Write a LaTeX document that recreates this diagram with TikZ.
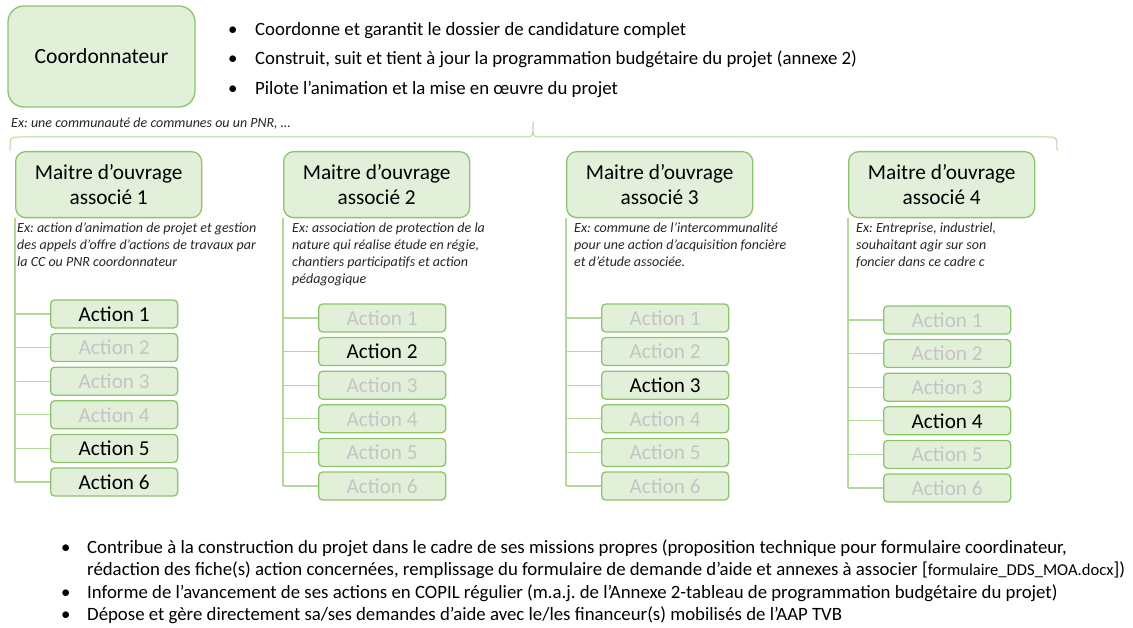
\documentclass[tikz,border=0pt]{standalone}
\usepackage{fontspec}
\setmainfont{Carlito}
\frenchspacing
\definecolor{boxgreen}{HTML}{8CC46B}
\definecolor{boxfill}{HTML}{E2F0D9}
\definecolor{linegreen}{HTML}{B4D89C}
\definecolor{greytext}{HTML}{C4C4C4}
\definecolor{extext}{HTML}{262626}
\tikzset{
  rolebox/.style={draw=boxgreen,fill=boxfill,line width=1.3pt,
    rounded corners=10pt,align=center,inner sep=0pt},
  actbox/.style={draw=boxgreen,fill=boxfill,line width=1.3pt,
    rounded corners=4pt,minimum width=127pt,minimum height=28pt,
    inner sep=0pt,font=\fontsize{21.2}{22}\selectfont},
  exnote/.style={anchor=north west,align=left,inner sep=0pt,text=extext,
    font=\fontsize{14}{17}\selectfont\itshape},
  puce/.style={anchor=base west,inner sep=0pt},
  tree/.style={draw=linegreen,line width=1.2pt}
}
\begin{document}
\begin{tikzpicture}[x=1pt,y=-1pt]
  \useasboundingbox (0,0) rectangle (1133,628);
  % coordonnateur
  \node[rolebox,minimum width=187pt,minimum height=101pt,rounded corners=16pt,
    font=\fontsize{21.6}{24}\selectfont] (coord) at (101.5,56.5) {Coordonnateur};
  \foreach \yy/\txt [count=\i] in {36/{Coordonne et garantit le dossier de candidature complet},
      65/{Construit, suit et tient à jour la programmation budgétaire du projet (annexe 2)},
      95/{Pilote l’animation et la mise en œuvre du projet}} {
    \node[puce,font=\fontsize{18.8}{22}\selectfont] (pc\i) at (228,\yy) {\textbullet};
    \node[puce,font=\fontsize{18.8}{22}\selectfont] (tc\i) at (255,\yy) {\txt};
  }
  \node[exnote,anchor=west] (excoord) at (11,124) {Ex: une communauté de communes ou un PNR, …};
  \draw[tree,line width=1pt] (10,151) .. controls (10,137) .. (20,137) -- (526,137)
    .. controls (533,137) .. (533,122) .. controls (533,137) .. (540,137) -- (1047,137)
    .. controls (1057,137) .. (1057,151);
  % maitres d'ouvrage associes
  \foreach \n/\x/\y in {1/15/314,2/283/318,3/566/318,4/848/320} {
    \node[rolebox,minimum width=186pt,minimum height=66pt,anchor=north west,
      font=\fontsize{21.3}{25}\selectfont] (moa\n) at (\x,151) {Maitre d’ouvrage\\associé \n};
    \foreach \k in {1,...,6} {
      \pgfmathtruncatemacro\isact{(\k==\n)||((\n==1)&&(\k>4))}
      \ifnum\isact=1 \def\actcol{black}\else\def\actcol{greytext}\fi
      \node[actbox,text=\actcol,anchor=west] (a\n\k) at (\x+35,\y+33.6*\k-33.6) {Action \k};
      \draw[tree] (moa\n.south west |- a\n\k.west) -- (a\n\k.west);
    }
    \draw[tree] (moa\n.south west) -- (moa\n.south west |- a\n6.west);
  }
  \node[exnote] (ex1) at ([shift={(2,4)}]moa1.south west)
    {Ex: action d’animation de projet et gestion\\des appels d’offre d’actions de travaux par\\la CC ou PNR coordonnateur};
  \node[exnote] (ex2) at ([shift={(9,4)}]moa2.south west)
    {Ex: association de protection de la\\nature qui réalise étude en régie,\\chantiers participatifs et action\\pédagogique};
  \node[exnote] (ex3) at ([shift={(8,4)}]moa3.south west)
    {Ex: commune de l’intercommunalité\\pour une action d’acquisition foncière\\et d’étude associée.};
  \node[exnote] (ex4) at ([shift={(8,4)}]moa4.south west)
    {Ex: Entreprise, industriel,\\souhaitant agir sur son\\foncier dans ce cadre c};
  % missions des maitres d'ouvrage
  \begin{scope}[font=\fontsize{18.8}{22}\selectfont]
    \node[puce] (pb1) at (61,553) {\textbullet};
    \node[puce] (tb1) at (87,553) {Contribue à la construction du projet dans le cadre de ses missions propres (proposition technique pour formulaire coordinateur,};
    \node[puce] (tb1b) at (87,575) {rédaction des fiche(s) action concernées, remplissage du formulaire de demande d’aide et annexes à associer [{\fontsize{16.6}{18}\selectfont formulaire\_DDS\_MOA.docx}])};
    \node[puce] (pb2) at (61,598) {\textbullet};
    \node[puce] (tb2) at (87,598) {Informe de l’avancement de ses actions en COPIL régulier (m.a.j. de l’Annexe 2-tableau de programmation budgétaire du projet)};
    \node[puce] (pb3) at (61,620) {\textbullet};
    \node[puce] (tb3) at (87,620) {Dépose et gère directement sa/ses demandes d’aide avec le/les financeur(s) mobilisés de l’AAP TVB};
  \end{scope}
\end{tikzpicture}
\end{document}
